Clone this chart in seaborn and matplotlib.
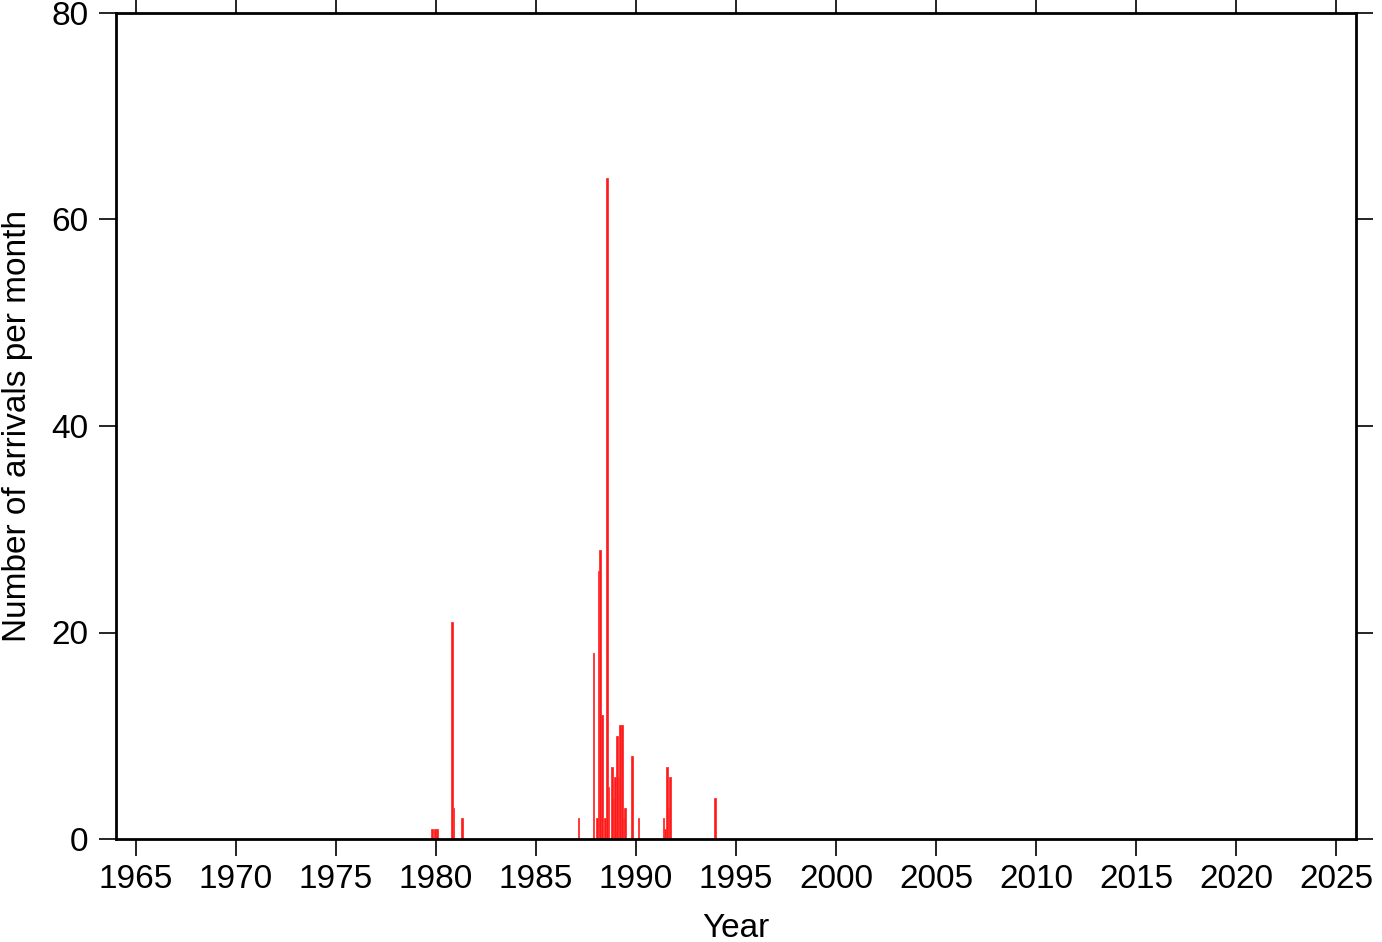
import numpy as np
import pandas as pd
import matplotlib
matplotlib.use("Agg")
import matplotlib.pyplot as plt
import seaborn as sns

# monthly arrival counts (year-month, count)
months = ["1979-10", "1979-12", "1980-01", "1980-10", "1980-11", "1981-04",
          "1987-02", "1987-11", "1988-01", "1988-02", "1988-03", "1988-04",
          "1988-06", "1988-07", "1988-08", "1988-10", "1988-11", "1988-12",
          "1989-01", "1989-02", "1989-03", "1989-04", "1989-05", "1989-06",
          "1989-10", "1990-02", "1991-05", "1991-06", "1991-07", "1991-08",
          "1991-09", "1993-12"]
counts = [1, 1, 1, 21, 3, 2,
          2, 18, 2, 26, 28, 12,
          2, 64, 5, 7, 4, 6,
          10, 6, 11, 11, 2, 3,
          8, 2, 2, 1, 7, 3,
          6, 4]
x_ticks = list(range(1965, 2026, 5))
y_ticks = [0, 20, 40, 60, 80]

df = pd.DataFrame({"month": pd.to_datetime(months), "count": counts})
df["year"] = df["month"].dt.year + (df["month"].dt.month - 1) / 12 + 1 / 24

sns.set_style("ticks")
plt.rcParams["font.family"] = ["Liberation Sans", "DejaVu Sans"]

fig = plt.figure(figsize=(13.82, 9.42), dpi=100)
ax = fig.add_axes([116 / 1382, 103 / 942, 1240 / 1382, 826 / 942])

sns.histplot(data=df, x="year", weights="count", binwidth=1 / 12,
             binrange=(1964, 2026), ax=ax,
             color="#ff1a1a", alpha=1, linewidth=0.6, edgecolor="#ff3030")

ax.set_xlim(1964, 2026)
ax.set_ylim(0, 80)
ax.set_xticks(x_ticks)
ax.set_yticks(y_ticks)
ax.tick_params(axis="both", which="major", direction="out", length=12, width=1.2,
               top=True, right=True, labelsize=24, color="black", labelcolor="black")
ax.tick_params(axis="x", pad=6)
ax.tick_params(axis="y", pad=8)
for s in ax.spines.values():
    s.set_visible(True)
    s.set_linewidth(2)
    s.set_color("black")

ax.set_xlabel("Year", fontsize=24, labelpad=13, color="black")
ax.set_ylabel("Number of arrivals per month", fontsize=24, labelpad=13, color="black")

fig.savefig("out.png", dpi=100)
